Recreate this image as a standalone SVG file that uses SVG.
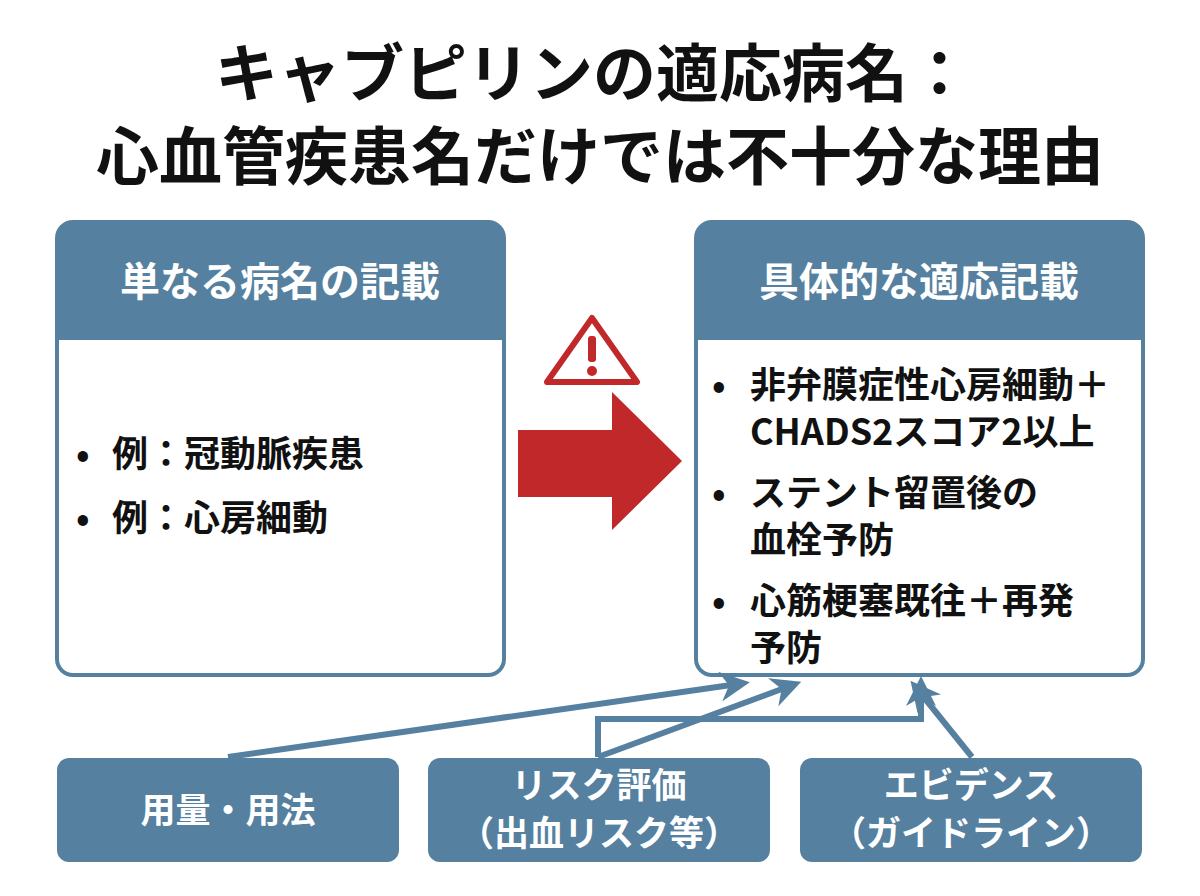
<svg xmlns="http://www.w3.org/2000/svg" width="1200" height="896" viewBox="0 0 1200 896">
<style>
text{font-family:"Noto Sans CJK JP","Noto Sans",sans-serif;font-weight:bold}
.t{font-size:63px;fill:#111;text-anchor:middle}
.h{font-size:40px;fill:#fff;text-anchor:middle}
.b{font-size:36px;fill:#111}
.n{font-size:35px;fill:#fff;text-anchor:middle}
.c{stroke:#55809f;stroke-width:6;fill:none}
</style>
<defs>
<marker id="a" viewBox="0 0 10 10" refX="6" refY="5" markerWidth="5" markerHeight="5" orient="auto"><path d="M0,0L10,5L0,10L3,5Z" fill="#55809f"/></marker>
</defs>
<rect width="1200" height="896" fill="#fff"/>
<text class="t" x="593" y="96">キャブピリンの適応病名：</text>
<text class="t" x="600" y="179">心血管疾患名だけでは不十分な理由</text>
<g id="left">
<rect x="57" y="222" width="447" height="453" rx="16" fill="#fff" stroke="#55809f" stroke-width="4"/>
<path d="M57,238a16,16 0 0 1 16,-16h415a16,16 0 0 1 16,16v102h-447z" fill="#55809f"/>
<text class="h" x="280" y="296">単なる病名の記載</text>
<text class="b" x="76" y="467">•</text><text class="b" x="112" y="467">例：冠動脈疾患</text>
<text class="b" x="76" y="531">•</text><text class="b" x="112" y="531">例：心房細動</text>
</g>
<g id="right">
<rect x="696" y="222" width="447" height="453" rx="16" fill="#fff" stroke="#55809f" stroke-width="4"/>
<path d="M696,238a16,16 0 0 1 16,-16h415a16,16 0 0 1 16,16v102h-447z" fill="#55809f"/>
<text class="h" x="919" y="296">具体的な適応記載</text>
<text class="b" x="712" y="398">•</text><text class="b" x="750" y="398">非弁膜症性心房細動＋</text>
<text class="b" x="750" y="445">CHADS2スコア2以上</text>
<text class="b" x="712" y="506">•</text><text class="b" x="750" y="506">ステント留置後の</text>
<text class="b" x="750" y="553">血栓予防</text>
<text class="b" x="712" y="614">•</text><text class="b" x="750" y="614">心筋梗塞既往＋再発</text>
<text class="b" x="750" y="661">予防</text>
</g>
<g id="mid">
<path d="M592,318L637,382H547Z" fill="#fff" stroke="#c0282a" stroke-width="6" stroke-linejoin="round"/>
<rect x="588" y="336" width="8" height="26" rx="3" fill="#c0282a"/>
<circle cx="592" cy="371" r="5" fill="#c0282a"/>
<path d="M518,430H612V392L682,461L612,530V497H518Z" fill="#c0282a"/>
</g>
<g id="n1"><rect x="57" y="758" width="342" height="104" rx="12" fill="#55809f"/><text class="n" x="228" y="823">用量・用法</text></g>
<g id="n2"><rect x="428" y="758" width="342" height="104" rx="12" fill="#55809f"/><text class="n" x="599" y="798">リスク評価</text><text class="n" x="599" y="846">（出血リスク等）</text></g>
<g id="n3"><rect x="800" y="758" width="342" height="104" rx="12" fill="#55809f"/><text class="n" x="971" y="798">エビデンス</text><text class="n" x="971" y="846">（ガイドライン）</text></g>
<g id="connectors" class="c">
<path d="M228,757L738,684" marker-end="url(#a)"/>
<path d="M598,757L790,686" marker-end="url(#a)"/>
<path d="M598,757V719H921V688" marker-end="url(#a)"/>
<path d="M972,757L918,690" marker-end="url(#a)"/>
</g>
</svg>
